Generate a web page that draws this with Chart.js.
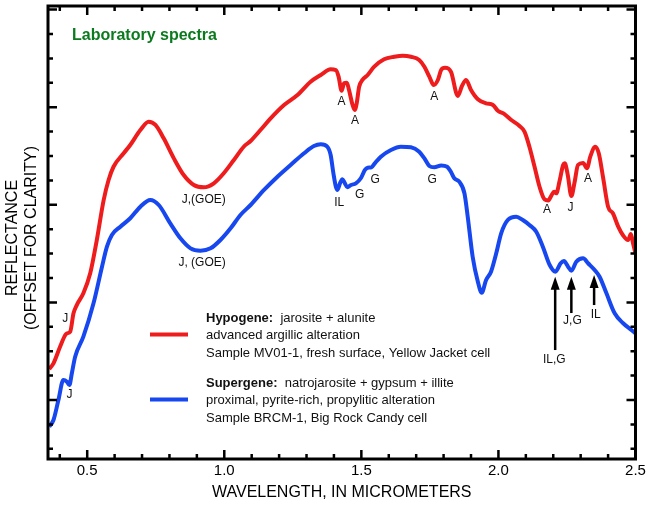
<!DOCTYPE html>
<html>
<head>
<meta charset="utf-8">
<script src="https://cdn.jsdelivr.net/npm/chart.js@4.4.1/dist/chart.umd.min.js"></script>
<style>
  html,body{margin:0;padding:0;background:#fff;}
  #wrap{width:650px;height:505px;position:relative;}
</style>
</head>
<body>
<div id="wrap"><canvas id="spectra"></canvas></div>
<script>
// hypogene sample (red), wavelength in micrometers / reflectance (offset units)
const redWave = [0.361,0.377,0.401,0.420,0.426,0.438,0.450,0.462,0.486,0.511,0.535,0.560,0.578,0.596,0.633,0.657,0.694,0.724,0.749,0.779,
  0.816,0.852,0.889,0.925,0.962,0.998,1.035,1.071,1.096,1.132,1.169,1.218,1.267,1.315,1.352,1.388,1.407,1.417,1.428,1.437,
  1.447,1.455,1.468,1.476,1.483,1.492,1.504,1.523,1.547,1.583,1.620,1.651,1.681,1.711,1.730,1.748,1.764,1.779,1.791,1.805,
  1.827,1.852,1.867,1.882,1.900,1.925,1.955,1.980,1.998,2.022,2.047,2.077,2.095,2.113,2.132,2.150,2.168,2.182,2.193,2.203,
  2.211,2.223,2.236,2.242,2.253,2.266,2.278,2.290,2.309,2.323,2.335,2.353,2.366,2.382,2.400,2.418,2.437,2.455,2.473,2.483,
  2.491,2.500];
const redRefl = [0.318,0.376,0.546,0.666,0.683,0.700,0.888,0.973,1.093,1.298,1.639,2.049,2.254,2.390,2.528,2.613,2.766,2.851,2.818,2.681,
  2.476,2.305,2.203,2.179,2.220,2.323,2.459,2.595,2.654,2.766,2.886,3.023,3.125,3.261,3.330,3.388,3.381,3.313,3.169,3.245,
  3.251,3.176,3.023,2.971,3.040,3.210,3.279,3.330,3.415,3.491,3.517,3.528,3.517,3.484,3.415,3.313,3.227,3.279,3.381,3.404,
  3.361,3.115,3.217,3.279,3.176,3.081,3.040,3.023,2.964,2.930,2.869,2.807,2.749,2.595,2.387,2.185,2.056,2.044,2.095,2.134,
  2.118,2.244,2.408,2.425,2.305,2.090,2.234,2.408,2.428,2.374,2.493,2.595,2.528,2.275,1.981,1.911,1.776,1.685,1.639,1.701,
  1.606,1.503];

// supergene sample (blue)
const blueWave = [0.361,0.377,0.395,0.413,0.426,0.435,0.444,0.456,0.486,0.523,0.554,0.572,0.590,0.621,0.657,0.694,0.730,0.761,0.803,0.840,
  0.877,0.913,0.950,0.986,1.023,1.059,1.096,1.145,1.194,1.242,1.291,1.327,1.352,1.376,1.388,1.398,1.407,1.413,1.422,1.431,
  1.440,1.449,1.462,1.480,1.498,1.513,1.523,1.537,1.549,1.571,1.608,1.644,1.681,1.711,1.730,1.748,1.766,1.791,1.813,1.827,
  1.839,1.857,1.876,1.888,1.906,1.925,1.939,1.955,1.973,1.992,2.010,2.034,2.065,2.089,2.113,2.138,2.162,2.187,2.208,2.227,
  2.239,2.254,2.266,2.284,2.309,2.327,2.351,2.369,2.394,2.424,2.455,2.485,2.500];
const blueRefl = [-0.274,-0.205,0.000,0.205,0.188,0.154,0.274,0.444,0.649,0.991,1.366,1.571,1.691,1.776,1.862,1.981,2.049,1.998,1.810,1.657,
  1.554,1.530,1.554,1.639,1.759,1.896,1.998,2.152,2.288,2.408,2.528,2.602,2.620,2.595,2.510,2.323,2.185,2.152,2.220,2.261,
  2.220,2.179,2.203,2.220,2.272,2.357,2.380,2.384,2.425,2.493,2.562,2.595,2.589,2.544,2.476,2.398,2.384,2.403,2.390,2.336,
  2.272,2.237,2.118,1.878,1.468,1.212,1.099,1.230,1.315,1.503,1.708,1.844,1.878,1.844,1.793,1.724,1.571,1.383,1.315,1.401,
  1.424,1.366,1.325,1.417,1.452,1.401,1.332,1.263,1.093,0.888,0.786,0.717,0.683];

const xTicks = [0.5, 1.0, 1.5, 2.0, 2.5];

// absorption feature labels: text, wavelength, reflectance
const featureText = ['A','A','A','IL','G','G','G','J,(GOE)','J, (GOE)','J','J','A','J','A','J,G','IL','IL,G'];
const featureWave = [1.428,1.477,1.766,1.419,1.494,1.550,1.758,0.925,0.919,0.420,0.435,2.177,2.263,2.327,2.270,2.355,2.204];
const featureRefl = [3.056,2.862,3.108,2.026,2.108,2.254,2.254,2.056,1.407,0.837,0.051,1.947,1.974,2.264,0.813,0.871,0.410];

// arrows pointing at features: wavelength, tip and tail reflectance
const arrowWave = [2.207, 2.266, 2.349];
const arrowTip  = [1.263, 1.263, 1.281];
const arrowTail = [0.512, 0.891, 0.973];

const RED = '#ee1c1c', BLUE = '#1747ee';
const FONT = '"Liberation Sans", Arial, sans-serif';

function pts(xs, ys){ return xs.map((x,i)=>({x:x, y:ys[i]})); }

const framePlugin = {
  id:'frame',
  afterDatasetsDraw(chart){
    const {ctx, chartArea:a, scales:{x, y}} = chart;
    ctx.save();
    // feature labels
    ctx.fillStyle = '#111';
    ctx.font = '12px ' + FONT;
    ctx.textAlign = 'center';
    ctx.textBaseline = 'middle';
    featureText.forEach((t,i)=>ctx.fillText(t, x.getPixelForValue(featureWave[i]), y.getPixelForValue(featureRefl[i])));
    // arrows
    ctx.strokeStyle = '#000'; ctx.fillStyle = '#000'; ctx.lineWidth = 2.5;
    arrowWave.forEach((w,i)=>{
      const px = x.getPixelForValue(w), tip = y.getPixelForValue(arrowTip[i]), tail = y.getPixelForValue(arrowTail[i]);
      ctx.beginPath(); ctx.moveTo(px, tail); ctx.lineTo(px, tip + 10); ctx.stroke();
      ctx.beginPath(); ctx.moveTo(px, tip); ctx.lineTo(px - 4.5, tip + 13); ctx.lineTo(px + 4.5, tip + 13); ctx.closePath(); ctx.fill();
    });
    // y axis title (two lines, rotated)
    ctx.save();
    ctx.fillStyle = '#000';
    ctx.font = '16px ' + FONT;
    ctx.translate(0, 238);
    ctx.rotate(-Math.PI/2);
    ctx.fillText('REFLECTANCE', 0, 12.5);
    ctx.fillText('(OFFSET FOR CLARITY)', 0, 31.5);
    ctx.restore();
    // title in plot
    ctx.textAlign = 'left';
    ctx.fillStyle = '#0b7a1e';
    ctx.font = 'bold 16px ' + FONT;
    ctx.fillText('Laboratory spectra', 72, 36);
    // legend
    const entries = [
      {color:RED, y:318, bold:'Hypogene:', rest:'  jarosite + alunite', lines:['advanced argillic alteration','Sample MV01-1, fresh surface, Yellow Jacket cell']},
      {color:BLUE, y:383, bold:'Supergene:', rest:'  natrojarosite + gypsum + illite', lines:['proximal, pyrite-rich, propylitic alteration','Sample BRCM-1, Big Rock Candy cell']}
    ];
    entries.forEach(e=>{
      ctx.strokeStyle = e.color; ctx.lineWidth = 4;
      ctx.beginPath(); ctx.moveTo(150, e.y + 16.5); ctx.lineTo(188, e.y + 16.5); ctx.stroke();
      ctx.fillStyle = '#111';
      ctx.font = 'bold 13px ' + FONT;
      ctx.fillText(e.bold, 206, e.y);
      const bw = ctx.measureText(e.bold).width;
      ctx.font = '13px ' + FONT;
      ctx.fillText(e.rest, 206 + bw, e.y);
      e.lines.forEach((l,j)=>ctx.fillText(l, 206, e.y + 17.5*(j+1)));
    });
    // frame and inward ticks
    ctx.strokeStyle = '#000'; ctx.lineWidth = 3;
    ctx.strokeRect(a.left, a.top, a.right - a.left, a.bottom - a.top);
    ctx.lineWidth = 2.5;
    for(let k = 4; k <= 25; k++){
      const v = k/10, px = x.getPixelForValue(v), len = (k % 5 === 0) ? 9 : 5;
      ctx.beginPath();
      ctx.moveTo(px, a.bottom); ctx.lineTo(px, a.bottom - len);
      ctx.moveTo(px, a.top); ctx.lineTo(px, a.top + len);
      ctx.stroke();
    }
    for(let k = -2; k <= 16; k++){
      const v = k/4, py = y.getPixelForValue(v), len = (k % 4 === 0) ? 9 : 5;
      ctx.beginPath();
      ctx.moveTo(a.left, py); ctx.lineTo(a.left + len, py);
      ctx.moveTo(a.right, py); ctx.lineTo(a.right - len, py);
      ctx.stroke();
    }
    ctx.restore();
  }
};

new Chart(document.getElementById('spectra'), {
  type:'line',
  data:{datasets:[
    {label:'Hypogene', data:pts(redWave, redRefl), borderColor:RED, borderWidth:4, pointRadius:0, cubicInterpolationMode:'monotone', fill:false},
    {label:'Supergene', data:pts(blueWave, blueRefl), borderColor:BLUE, borderWidth:4, pointRadius:0, cubicInterpolationMode:'monotone', fill:false}
  ]},
  options:{
    responsive:true, maintainAspectRatio:false, animation:false,
    layout:{padding:{top:6, right:14.5, left:0, bottom:0}},
    plugins:{legend:{display:false}, tooltip:{enabled:false}},
    scales:{
      x:{type:'linear', min:0.357, max:2.5,
        afterFit(s){ s.height = 46; },
        afterBuildTicks(s){ s.ticks = xTicks.map(v=>({value:v})); },
        grid:{display:false, drawTicks:false}, border:{display:false},
        ticks:{includeBounds:false, autoSkip:false, maxRotation:0, padding:3, color:'#000',
          font:{size:15, family:FONT}, callback:v=>v.toFixed(1)},
        title:{display:true, text:'WAVELENGTH, IN MICROMETERS', color:'#000', font:{size:16, family:FONT}, padding:{top:0, bottom:2.4}}
      },
      y:{type:'linear', min:-0.6045, max:4.037,
        afterFit(s){ s.width = 48; },
        grid:{display:false, drawTicks:false}, border:{display:false},
        ticks:{display:false},
        title:{display:false}
      }
    }
  },
  plugins:[framePlugin]
});
</script>
</body>
</html>
